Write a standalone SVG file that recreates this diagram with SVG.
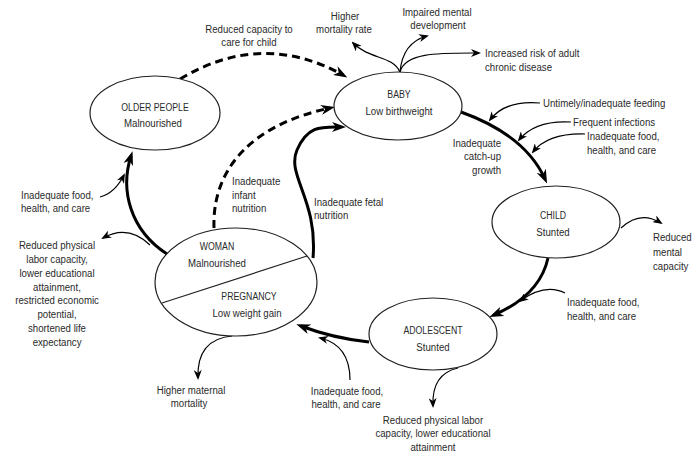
<svg xmlns="http://www.w3.org/2000/svg" width="700" height="460" viewBox="0 0 700 460">
<defs>
<style>
text{font-family:"Liberation Sans",Arial,sans-serif;font-size:11.5px;fill:#2a2a2a;transform-box:fill-box;transform:scaleX(0.84)}
text.k{transform:scaleX(0.76)}
.c{text-anchor:middle;transform-origin:center}
.l{text-anchor:start;transform-origin:left center}
.r{text-anchor:end;transform-origin:right center}
.node{fill:#fff;stroke:#231f20;stroke-width:1.2}
.thick{fill:none;stroke:#000;stroke-width:3}
.dash{fill:none;stroke:#000;stroke-width:3;stroke-dasharray:8 5}
.thin{fill:none;stroke:#000;stroke-width:1.2}
</style>
<marker id="ah" viewBox="0 0 14 10" refX="9" refY="5" markerWidth="14" markerHeight="10" markerUnits="userSpaceOnUse" orient="auto">
<path d="M0,0 L14,5 L0,10 L4,5 z" fill="#000"/>
</marker>
<marker id="as" viewBox="0 0 10 8" refX="8" refY="4" markerWidth="10" markerHeight="8" markerUnits="userSpaceOnUse" orient="auto">
<path d="M0,0 L10,4 L0,8 L3,4 z" fill="#000"/>
</marker>
</defs>
<rect width="700" height="460" fill="#fff"/>

<g id="connectors">
<path class="dash" d="M180 79 Q262 30 343 75" marker-end="url(#ah)"/>
<path class="dash" d="M214 228 C212 170 250 125 330 108" marker-end="url(#ah)"/>
<path class="thick" d="M313 258 C318 200 286 175 297 150 S322 127 341 127" marker-end="url(#ah)"/>
<path class="thick" d="M461 112 Q525 135 545 179" marker-end="url(#ah)"/>
<path class="thick" d="M548 258 Q540 295 494 315" marker-end="url(#ah)"/>
<path class="thick" d="M369 342 Q332 338 301 326" marker-end="url(#ah)"/>
<path class="thick" d="M167 254 C130 230 120 190 131 156" marker-end="url(#ah)"/>
<path class="thin" d="M100 197 Q115 193 124 175" marker-end="url(#as)"/>
<path class="thin" d="M150 245 Q128 224 103 238" marker-end="url(#as)"/>
<path class="thin" d="M232 336 C210 338 197 350 198 378" marker-end="url(#as)"/>
<path class="thin" d="M350 380 Q350 345 320 338" marker-end="url(#as)"/>
<path class="thin" d="M458 368 C440 372 432 385 433 406" marker-end="url(#as)"/>
<path class="thin" d="M621 228 Q640 210 661 223" marker-end="url(#as)"/>
<path class="thin" d="M565 293 Q545 283 520 301" marker-end="url(#as)"/>
<path class="thin" d="M540 103 Q505 100 490 120" marker-end="url(#as)"/>
<path class="thin" d="M571 122 Q535 120 519 140" marker-end="url(#as)"/>
<path class="thin" d="M585 134 Q548 133 533 152" marker-end="url(#as)"/>
<path class="thin" d="M400 72 C392 55 370 60 353 43" marker-end="url(#as)"/>
<path class="thin" d="M400 72 C402 50 412 40 427 36" marker-end="url(#as)"/>
<path class="thin" d="M400 72 C405 52 440 53 479 53" marker-end="url(#as)"/>
</g>

<g id="older-people">
<ellipse class="node" cx="155" cy="113" rx="65" ry="37"/>
<text class="c k" x="155" y="111">OLDER PEOPLE</text>
<text class="c" x="153" y="127">Malnourished</text>
</g>

<g id="baby">
<ellipse class="node" cx="398" cy="106" rx="64" ry="34"/>
<text class="c k" x="399" y="98">BABY</text>
<text class="c" x="399" y="115">Low birthweight</text>
</g>

<g id="child">
<ellipse class="node" cx="556" cy="222" rx="64" ry="36"/>
<text class="c k" x="553" y="219">CHILD</text>
<text class="c" x="553" y="236">Stunted</text>
</g>

<g id="adolescent">
<ellipse class="node" cx="433" cy="334" rx="64" ry="36"/>
<text class="c k" x="433" y="334">ADOLESCENT</text>
<text class="c" x="433" y="351">Stunted</text>
</g>

<g id="woman-pregnancy">
<ellipse class="node" cx="236" cy="282" rx="81" ry="54"/>
<line x1="162" y1="303" x2="307" y2="256" stroke="#231f20" stroke-width="1.2"/>
<text class="c k" x="217" y="250">WOMAN</text>
<text class="c" x="217" y="267">Malnourished</text>
<text class="c k" x="249" y="300">PREGNANCY</text>
<text class="c" x="247" y="317">Low weight gain</text>
</g>

<g id="labels">
<text class="c" x="249" y="33">Reduced capacity to</text>
<text class="c" x="249" y="46">care for child</text>
<text class="c" x="345" y="20">Higher</text>
<text class="c" x="344" y="33">mortality rate</text>
<text class="c" x="437" y="16">Impaired mental</text>
<text class="c" x="438" y="29">development</text>
<text class="l" x="485" y="57">Increased risk of adult</text>
<text class="l" x="485" y="71">chronic disease</text>
<text class="l" x="543" y="107">Untimely/inadequate feeding</text>
<text class="l" x="573" y="126">Frequent infections</text>
<text class="l" x="587" y="140">Inadequate food,</text>
<text class="l" x="587" y="154">health, and care</text>
<text class="r" x="501" y="147">Inadequate</text>
<text class="r" x="501" y="160">catch-up</text>
<text class="r" x="501" y="174">growth</text>
<text class="l" x="653" y="241">Reduced</text>
<text class="l" x="653" y="256">mental</text>
<text class="l" x="653" y="270">capacity</text>
<text class="l" x="567" y="306">Inadequate food,</text>
<text class="l" x="567" y="320">health, and care</text>
<text class="c" x="433" y="424">Reduced physical labor</text>
<text class="c" x="433" y="437">capacity, lower educational</text>
<text class="c" x="433" y="451">attainment</text>
<text class="c" x="347" y="395">Inadequate food,</text>
<text class="c" x="346" y="408">health, and care</text>
<text class="c" x="191" y="394">Higher maternal</text>
<text class="c" x="189" y="407">mortality</text>
<text class="c" x="57" y="249">Reduced physical</text>
<text class="c" x="57" y="263">labor capacity,</text>
<text class="c" x="57" y="277">lower educational</text>
<text class="c" x="57" y="291">attainment,</text>
<text class="c" x="57" y="304">restricted economic</text>
<text class="c" x="57" y="318">potential,</text>
<text class="c" x="57" y="332">shortened life</text>
<text class="c" x="57" y="346">expectancy</text>
<text class="l" x="21" y="199">Inadequate food,</text>
<text class="l" x="21" y="212">health, and care</text>
<text class="l" x="232" y="185">Inadequate</text>
<text class="l" x="232" y="199">infant</text>
<text class="l" x="232" y="212">nutrition</text>
<text class="l" x="314" y="206">Inadequate fetal</text>
<text class="l" x="314" y="219">nutrition</text>
</g>
</svg>
